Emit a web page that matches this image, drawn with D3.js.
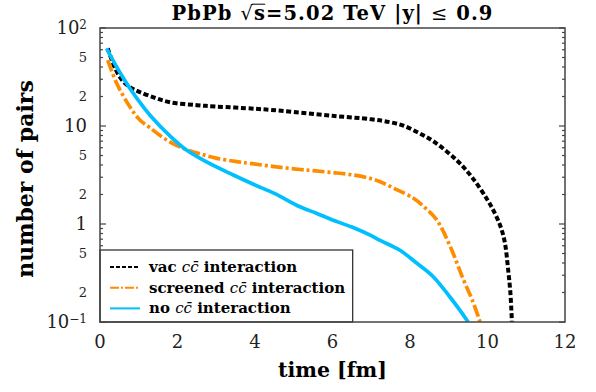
<!DOCTYPE html>
<html>
<head>
<meta charset="utf-8">
<script src="https://cdn.jsdelivr.net/npm/d3@7"></script>
<style>
  body { margin: 0; background: #fff; }
  svg { display: block; }
  .serif { font-family: "DejaVu Serif", "Liberation Serif", serif; }
</style>
</head>
<body>
<div id="chart"></div>
<script>
// ---- data ----
const tVac = [0.2, 0.4, 0.6, 0.8, 1.0, 1.4, 1.8, 2.5, 3.0, 4.0, 4.4, 5.0, 6.0, 7.0, 7.5, 7.85, 8.25, 8.6, 9.2, 9.6, 10.0, 10.2, 10.35, 10.45, 10.53, 10.59, 10.63];
const nVac = [62, 38, 28.5, 24.5, 22.4, 19.5, 17.5, 16.3, 15.8, 15, 14.6, 13.9, 12.7, 11.7, 10.9, 10, 8.4, 7.0, 4.5, 3.0, 1.76, 1.26, 0.91, 0.64, 0.35, 0.2, 0.1];

const tScreened = [0.2, 0.43, 0.77, 1.03, 1.29, 1.72, 2.24, 2.58, 3.0, 3.53, 3.87, 4.5, 5.16, 5.5, 6.0, 6.54, 7.0, 7.23, 7.6, 8.09, 8.4, 8.69, 9.03, 9.38, 9.6, 9.81];
const nScreened = [47, 27.3, 15.7, 11.5, 9.6, 7.2, 5.7, 5.2, 4.7, 4.33, 4.15, 3.85, 3.6, 3.5, 3.35, 3.16, 2.9, 2.7, 2.3, 1.83, 1.45, 1.1, 0.6, 0.27, 0.17, 0.1];

const tNone = [0.17, 0.4, 0.6, 0.8, 1.03, 1.29, 1.81, 2.24, 2.8, 3.44, 4.0, 4.5, 5.16, 5.6, 6.0, 6.5, 7.0, 7.23, 7.74, 8.17, 8.6, 9.03, 9.3, 9.5];
const nNone = [62, 42, 30.9, 23.3, 17.4, 12.9, 7.9, 5.65, 4.2, 3.16, 2.5, 2.05, 1.5, 1.28, 1.1, 0.93, 0.76, 0.68, 0.54, 0.4, 0.29, 0.18, 0.13, 0.1];

const xTicks = [0, 2, 4, 6, 8, 10, 12];
const yLabelValues = [0.1, 0.2, 0.5, 1, 2, 5, 10, 20, 50, 100];
const yLabelBase = ["10", "2", "5", "1", "2", "5", "10", "2", "5", "10"];
const yLabelExp = ["\u22121", "", "", "", "", "", "", "", "", "2"];
const yMajor = [0.1, 1, 10, 100];

// ---- layout ----
const width = 596, height = 392;
const plotLeft = 100, plotRight = 565, plotTop = 28, plotBottom = 322;

const svg = d3.select("#chart").append("svg")
    .attr("width", width)
    .attr("height", height);

const x = d3.scaleLinear().domain([0, 12]).range([plotLeft, plotRight]);
const y = d3.scaleLog().domain([0.1, 100]).range([plotBottom, plotTop]);

svg.append("clipPath").attr("id", "plot-clip")
  .append("rect")
    .attr("x", plotLeft).attr("y", plotTop)
    .attr("width", plotRight - plotLeft).attr("height", plotBottom - plotTop);

const series = [
    { name: "vac", t: tVac, n: nVac, color: "#000000", dash: "5,2.6", legDash: "4,2" },
    { name: "screened", t: tScreened, n: nScreened, color: "#ff8c00", dash: "12,3,3,3", legDash: "9,2,2,2" },
    { name: "no", t: tNone, n: nNone, color: "#00bfff", dash: null, legDash: null },
];

const line = d3.line()
    .x(d => x(d[0]))
    .y(d => y(d[1]))
    .curve(d3.curveCatmullRom.alpha(0.5));

// ticks (inside, left and right)
const minorTicks = y.ticks().filter(v => !yMajor.includes(v));
const axisG = svg.append("g").attr("stroke", "#444");

[[plotLeft, 1], [plotRight, -1]].forEach(([x0, dir]) => {
    axisG.append("g").selectAll("line")
      .data(minorTicks)
      .join("line")
        .attr("x1", x0).attr("x2", x0 + dir * 3)
        .attr("y1", d => y(d)).attr("y2", d => y(d))
        .attr("stroke-width", 1.2);
    axisG.append("g").selectAll("line")
      .data(yMajor)
      .join("line")
        .attr("x1", x0).attr("x2", x0 + dir * 6)
        .attr("y1", d => y(d)).attr("y2", d => y(d))
        .attr("stroke-width", 1.2);
});

// curves
const curves = svg.append("g").attr("clip-path", "url(#plot-clip)")
    .attr("fill", "none");

curves.selectAll("path")
  .data(series)
  .join("path")
    .attr("d", s => line(s.t.map((t, i) => [t, s.n[i]])))
    .attr("stroke", s => s.color)
    .attr("stroke-width", s => s.name === "vac" ? 4 : 3.7)
    .attr("stroke-dasharray", s => s.dash);

// y tick labels
const yLab = svg.append("g").attr("class", "serif").attr("fill", "#222");
yLabelValues.forEach((v, i) => {
    const major = yMajor.includes(v);
    const t = yLab.append("text")
        .attr("x", 87)
        .attr("y", y(v))
        .attr("dy", major ? "0.36em" : "0.38em")
        .attr("text-anchor", "end")
        .style("font-size", major ? "18px" : "13px");
    t.append("tspan").text(yLabelBase[i]);
    if (yLabelExp[i]) {
        t.append("tspan").attr("dy", "-0.45em").style("font-size", "12px").text(yLabelExp[i]);
    }
});

// x tick labels
svg.append("g").attr("class", "serif").attr("fill", "#222")
  .selectAll("text")
  .data(xTicks)
  .join("text")
    .attr("x", d => x(d))
    .attr("y", 348)
    .attr("text-anchor", "middle")
    .style("font-size", "18px")
    .text(d => d);

// axis titles
svg.append("text")
    .attr("class", "serif")
    .attr("x", x(6)).attr("y", 377)
    .attr("text-anchor", "middle")
    .style("font-size", "20.5px").style("font-weight", "bold")
    .text("time [fm]");

svg.append("text")
    .attr("class", "serif")
    .attr("transform", `translate(33,179) rotate(-90)`)
    .attr("text-anchor", "middle")
    .style("font-size", "22px").style("font-weight", "bold")
    .text("number of pairs");

// title
const title = svg.append("text")
    .attr("class", "serif")
    .attr("x", x(6)).attr("y", 20)
    .attr("text-anchor", "middle")
    .style("font-size", "19.5px").style("font-weight", "bold")
    .style("letter-spacing", "1.1px");
title.append("tspan").text("PbPb ");
title.append("tspan").style("font-weight", "normal").text("\u221A");
title.append("tspan").text("s=5.02 TeV |y| ");
title.append("tspan").style("font-weight", "normal").text("\u2264");
title.append("tspan").text(" 0.9");
// vinculum over s
const tNode = title.node();
const sqIdx = "PbPb ".length;
const sq = tNode.getExtentOfChar(sqIdx);
const sc = tNode.getExtentOfChar(sqIdx + 1);
svg.append("line")
    .attr("x1", sq.x + sq.width - 2).attr("x2", sc.x + sc.width - 0.8)
    .attr("y1", sq.y + 2.2).attr("y2", sq.y + 2.2)
    .attr("stroke", "#000").attr("stroke-width", 1);

// legend
const leg = svg.append("g");
leg.append("rect")
    .attr("x", plotLeft).attr("y", 250)
    .attr("width", 252.7).attr("height", plotBottom - 250)
    .attr("fill", "#fff")
    .attr("stroke", "#222")
    .attr("stroke-width", 1.2);

const legRows = leg.selectAll("g.row")
  .data(series)
  .join("g")
    .attr("class", "row")
    .attr("transform", (d, i) => `translate(0,${267 + i * 20.7})`);

legRows.append("line")
    .attr("x1", 110).attr("x2", 140)
    .attr("stroke", d => d.color)
    .attr("stroke-width", 2)
    .attr("stroke-dasharray", d => d.legDash);

const legText = legRows.append("text")
    .attr("class", "serif")
    .attr("x", 149).attr("y", 5)
    .style("font-size", "15px").style("font-weight", "bold");
legText.append("tspan").text(d => d.name + " ");
legText.append("tspan").style("font-weight", "normal").style("font-style", "italic").text("cc\u0304");
legText.append("tspan").text(" interaction");

// frame on top
svg.append("rect")
    .attr("x", plotLeft).attr("y", plotTop)
    .attr("width", plotRight - plotLeft).attr("height", plotBottom - plotTop)
    .attr("fill", "none")
    .attr("stroke", "#444")
    .attr("stroke-width", 1.5);
</script>
</body>
</html>
